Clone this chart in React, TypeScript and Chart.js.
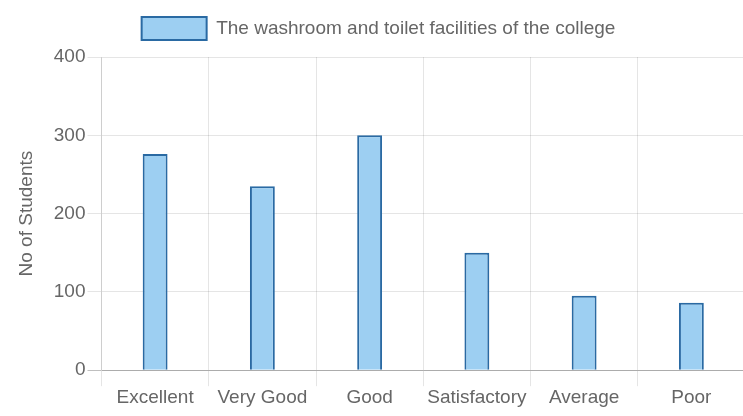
import React, { useEffect, useRef } from "react";
import { Chart, registerables } from "chart.js";
Chart.register(...registerables);

const categories = ["Excellent", "Very Good", "Good", "Satisfactory", "Average", "Poor"];
const students = [276, 235, 300, 150, 95, 86];
const seriesLabel = "The washroom and toilet facilities of the college";
const yTitle = "No of Students";

export default function App() {
  const ref = useRef<HTMLCanvasElement>(null);
  useEffect(() => {
    document.body.style.margin = "0";
    const font = "'Liberation Sans', Arial, sans-serif";
    const legendGap = {
      id: "legendGap",
      afterInit(chart: any) {
        const lg = chart.legend;
        if (!lg) return;
        const fit = lg.fit;
        lg.fit = function () {
          fit.call(this);
          this.height += 7;
        };
      },
    };
    const chart = new Chart(ref.current!, {
      type: "bar",
      data: {
        labels: categories,
        datasets: [
          {
            label: seriesLabel,
            data: students,
            backgroundColor: "#9dcff2",
            borderColor: "#2a6aa3",
            borderWidth: 2,
            barPercentage: 0.29,
            categoryPercentage: 0.8,
          },
        ],
      },
      plugins: [legendGap],
      options: {
        animation: false,
        responsive: false,
        layout: { padding: { left: 12, right: 0, top: 5, bottom: 7 } },
        plugins: {
          tooltip: { enabled: false },
          legend: {
            labels: {
              boxWidth: 65,
              boxHeight: 23,
              color: "#666",
              font: { family: font, size: 19 },
              padding: 12,
            },
          },
        },
        scales: {
          x: {
            grid: { color: "rgba(0,0,0,0.1)", tickLength: 16 },
            border: { color: "rgba(0,0,0,0.1)" },
            ticks: { color: "#666", font: { family: font, size: 19 }, padding: 0 },
          },
          y: {
            min: 0,
            max: 400,
            ticks: { stepSize: 100, color: "#666", font: { family: font, size: 19 }, padding: 2 },
            grid: {
              tickLength: 14,
              color: (c: any) => (c.tick && c.tick.value === 0 ? "rgba(0,0,0,0.25)" : "rgba(0,0,0,0.1)"),
            },
            border: { color: "rgba(0,0,0,0.1)" },
            title: {
              display: true,
              text: yTitle,
              color: "#666",
              font: { family: font, size: 19 },
              padding: { top: 3, bottom: 14 },
            },
          },
        },
      },
    });
    return () => chart.destroy();
  }, []);
  return (
    <div style={{ position: "absolute", left: 0, top: 0, width: 743, height: 416, overflow: "hidden" }}>
      <canvas ref={ref} width={745} height={416} />
    </div>
  );
}
